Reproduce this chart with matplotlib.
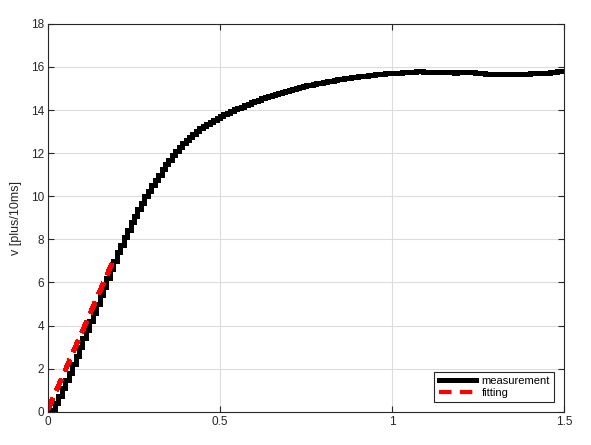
import matplotlib
matplotlib.use("Agg")
import matplotlib.pyplot as plt
import numpy as np

# measurement, one value every 10 ms (drawn as stairs)
t_meas = np.round(np.arange(0, 1.5001, 0.01), 2)
v_meas = [
    0.00, 0.10, 0.40, 0.75, 1.10, 1.45, 1.80, 2.20, 2.60, 3.00,   # 0.00-0.09
    3.40, 3.80, 4.20, 4.60, 5.00, 5.40, 5.80, 6.20, 6.60, 7.00,   # 0.10-0.19
    7.40, 7.75, 8.10, 8.45, 8.80, 9.10, 9.40, 9.70, 10.00, 10.25,  # 0.20-0.29
    10.50, 10.75, 11.00, 11.25, 11.50, 11.70, 11.90, 12.10, 12.30, 12.45,
    12.60, 12.75, 12.90, 13.03, 13.15, 13.25, 13.35, 13.45, 13.55, 13.64,
    13.72, 13.80, 13.88, 13.96, 14.03, 14.10, 14.16, 14.23, 14.29, 14.36,
    14.42, 14.48, 14.54, 14.60, 14.65, 14.70, 14.75, 14.80, 14.85, 14.90,
    14.94, 14.98, 15.02, 15.06, 15.10, 15.14, 15.17, 15.21, 15.24, 15.27,
    15.30, 15.33, 15.36, 15.39, 15.42, 15.45, 15.47, 15.50, 15.52, 15.54,
    15.56, 15.58, 15.60, 15.62, 15.64, 15.66, 15.67, 15.69, 15.70, 15.71,
    15.72, 15.73, 15.74, 15.75, 15.76, 15.77, 15.78, 15.79, 15.79, 15.78,  # 1.00-1.09
    15.78, 15.77, 15.77, 15.76, 15.75, 15.75, 15.76, 15.75, 15.74, 15.75,
    15.76, 15.77, 15.76, 15.75, 15.74, 15.72, 15.70, 15.69, 15.68, 15.67,
    15.66, 15.66, 15.65, 15.65, 15.66, 15.66, 15.67, 15.67, 15.68, 15.69,
    15.70, 15.70, 15.71, 15.72, 15.73, 15.74, 15.75, 15.77, 15.79, 15.81,  # 1.40-1.49
    15.83,
]

# linear fit of the rising part
t_fit = [0.0, 0.195]
v_fit = [0.1, 7.2]

plt.rcParams["font.family"] = ["Liberation Sans", "DejaVu Sans"]

fig = plt.figure(figsize=(5.91, 4.45), dpi=100)
ax = fig.add_axes([0.0812, 0.0748, 0.8731, 0.8717])

ax.step(t_meas, v_meas, where="post", color="k", lw=3.6, antialiased=False,
        label="measurement")
ax.plot(t_fit, v_fit, "--", color="red", lw=3.0, dashes=(3, 2),
        antialiased=False, label="fitting")

ax.set_xlim(0, 1.5)
ax.set_ylim(0, 18)
ax.set_xticks([0, 0.5, 1, 1.5])
ax.set_xticklabels(["0", "0.5", "1", "1.5"])
ax.set_yticks(np.arange(0, 19, 2))
ax.tick_params(direction="in", length=4, width=0.8, labelsize=8.5, pad=3,
               top=True, right=True, colors="#262626")
for s in ax.spines.values():
    s.set_color("#262626")
    s.set_linewidth(0.8)
ax.grid(True, color="#dcdcdc", lw=0.8)
ax.set_axisbelow(True)
ax.set_ylabel("v [plus/10ms]", fontsize=9, color="#262626", labelpad=6)

leg = ax.legend(loc="lower right", bbox_to_anchor=(0.981, 0.024), fontsize=8,
                fancybox=False, framealpha=1, edgecolor="#262626",
                handlelength=3.4, borderpad=0.4, labelspacing=0.15,
                handletextpad=0.45, borderaxespad=0)
leg.get_frame().set_linewidth(0.8)

fig.savefig("out.png", dpi=100)
